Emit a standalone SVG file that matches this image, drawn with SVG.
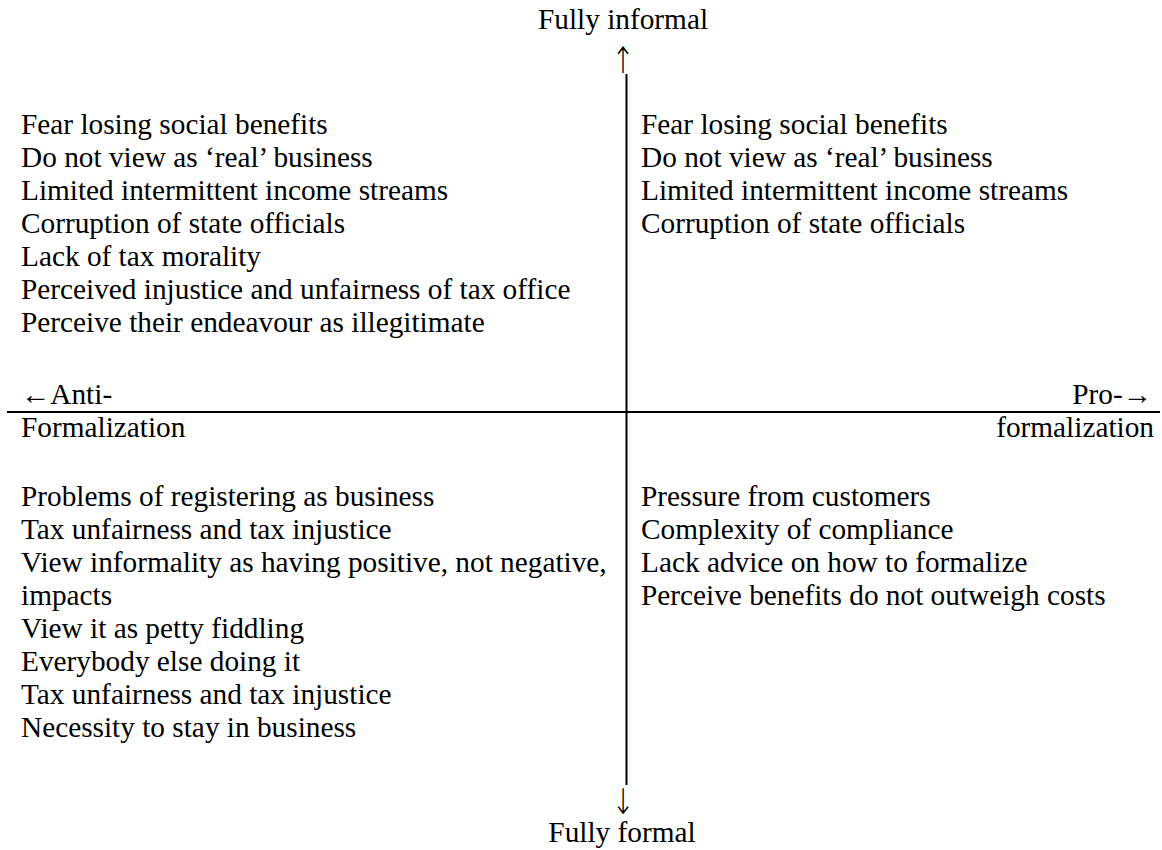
<svg xmlns="http://www.w3.org/2000/svg" width="1162" height="850" viewBox="0 0 1162 850">
  <style>
    text { font-family: "Liberation Serif", "Times New Roman", serif; font-size: 29.3px; fill: #000; }
    .axis { stroke: #000; stroke-width: 2; fill: none; }
    .mid { text-anchor: middle; }
    .end { text-anchor: end; }
    .arrow { font-family: "DejaVu Sans", "Liberation Sans", sans-serif; font-size: 27px; font-weight: 200; }
  </style>
  <rect width="1162" height="850" fill="#fff"/>

  <!-- axes -->
  <g id="connectors">
    <line class="axis" x1="626.5" y1="74" x2="626.5" y2="785"/>
    <line class="axis" x1="7" y1="412" x2="1160" y2="412"/>
  </g>

  <!-- axis labels -->
  <g id="top-label">
    <text class="mid" x="623" y="29">Fully informal</text>
    <text class="mid arrow" transform="translate(623 73) scale(1 1.35)">↑</text>
  </g>
  <g id="bottom-label">
    <text class="mid arrow" transform="translate(623 814) scale(1 1.3)">↓</text>
    <text class="mid" x="622" y="842">Fully formal</text>
  </g>
  <g id="left-label">
    <text x="21" y="404">←Anti-</text>
    <text x="21" y="437">Formalization</text>
  </g>
  <g id="right-label">
    <text class="end" x="1152" y="404">Pro-→</text>
    <text class="end" x="1154" y="437">formalization</text>
  </g>

  <!-- upper-left quadrant -->
  <g id="quadrant-upper-left">
    <text x="21" y="134">Fear losing social benefits</text>
    <text x="21" y="167">Do not view as ‘real’ business</text>
    <text x="21" y="200">Limited intermittent income streams</text>
    <text x="21" y="233">Corruption of state officials</text>
    <text x="21" y="266">Lack of tax morality</text>
    <text x="21" y="299">Perceived injustice and unfairness of tax office</text>
    <text x="21" y="332">Perceive their endeavour as illegitimate</text>
  </g>

  <!-- upper-right quadrant -->
  <g id="quadrant-upper-right">
    <text x="641" y="134">Fear losing social benefits</text>
    <text x="641" y="167">Do not view as ‘real’ business</text>
    <text x="641" y="200">Limited intermittent income streams</text>
    <text x="641" y="233">Corruption of state officials</text>
  </g>

  <!-- lower-left quadrant -->
  <g id="quadrant-lower-left">
    <text x="21" y="506">Problems of registering as business</text>
    <text x="21" y="539">Tax unfairness and tax injustice</text>
    <text x="21" y="572">View informality as having positive, not negative,</text>
    <text x="21" y="605">impacts</text>
    <text x="21" y="638">View it as petty fiddling</text>
    <text x="21" y="671">Everybody else doing it</text>
    <text x="21" y="704">Tax unfairness and tax injustice</text>
    <text x="21" y="737">Necessity to stay in business</text>
  </g>

  <!-- lower-right quadrant -->
  <g id="quadrant-lower-right">
    <text x="641" y="506">Pressure from customers</text>
    <text x="641" y="539">Complexity of compliance</text>
    <text x="641" y="572">Lack advice on how to formalize</text>
    <text x="641" y="605">Perceive benefits do not outweigh costs</text>
  </g>
</svg>
